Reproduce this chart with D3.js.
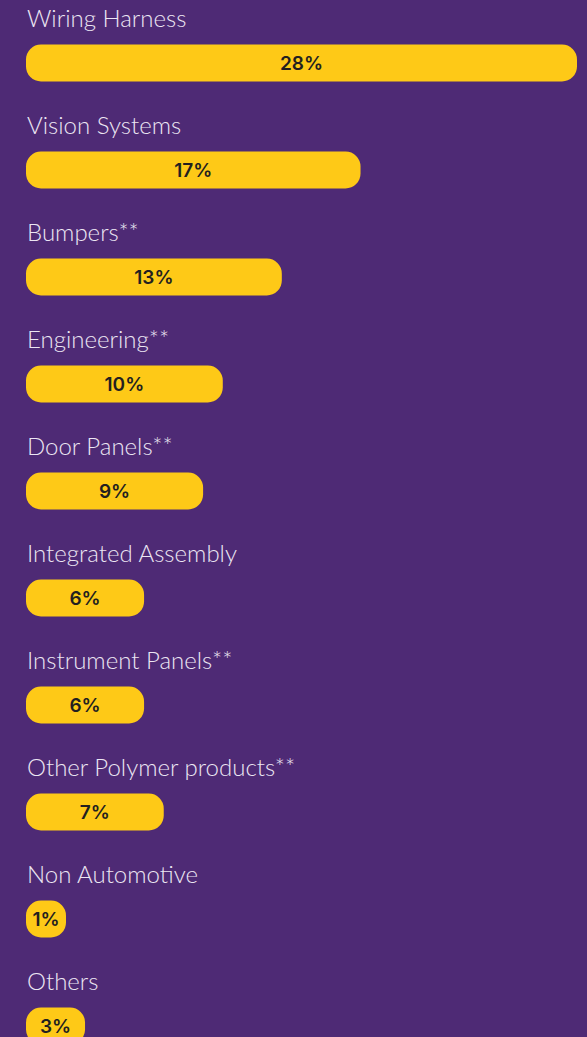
<!DOCTYPE html>
<html>
<head>
<meta charset="utf-8">
<script src="https://cdn.jsdelivr.net/npm/d3@7"></script>
<style>
	html, body { margin: 0; padding: 0; background: #4e2a75; overflow: hidden; }
</style>
</head>
<body>
<script>
var width = 587,
		height = 1037,
		barLeft = 26,
		barHeight = 37,
		minBar = 40;

// segment names and their share of revenue (%)
var categories = ["Wiring Harness", "Vision Systems", "Bumpers**", "Engineering**", "Door Panels**",
	"Integrated Assembly", "Instrument Panels**", "Other Polymer products**", "Non Automotive", "Others"];
var shares = [28, 17, 13, 10, 9, 6, 6, 7, 1, 3];
var valueLabels = ["28%", "17%", "13%", "10%", "9%", "6%", "6%", "7%", "1%", "3%"];

var rows = [];
for(var i = 0; i < categories.length; i++){
	rows.push({ name: categories[i], value: shares[i], label: valueLabels[i] });
}

var y = d3.scalePoint()
	.domain(categories)
	.range([63, 1026]);

var x = d3.scaleLinear()
	.domain([0, 28])
	.range([0, 551]);

var svg = d3.select("body")
	.append("svg")
	.attr("width", width)
	.attr("height", height);

svg.append("rect")
	.attr("width", width)
	.attr("height", height)
	.style("fill", "#4e2a75");

var g = svg.selectAll(".row")
	.data(rows)
	.enter()
	.append("g")
	.attr("class", "row")
	.attr("transform", function (d) { return "translate(0," + y(d.name) + ")"; });

// category name above the bar
g.append("text")
	.attr("x", 27)
	.attr("y", -36)
	.style("font-family", "Lato, 'Noto Sans', sans-serif")
	.style("font-weight", "300")
	.style("font-size", "24px")
	.style("fill", "#ece6f3")
	.text(function (d) { return d.name; });

g.append("rect")
	.attr("x", barLeft)
	.attr("y", -barHeight / 2)
	.attr("width", function (d) { return Math.max(x(d.value), minBar); })
	.attr("height", barHeight)
	.attr("rx", 15)
	.attr("ry", 15)
	.style("fill", "#fec917");

g.append("text")
	.attr("x", function (d) { return barLeft + Math.max(x(d.value), minBar) / 2; })
	.attr("y", 0)
	.attr("dy", "0.36em")
	.attr("text-anchor", "middle")
	.style("font-family", "Inter, 'Noto Sans', sans-serif")
	.style("font-weight", "600")
	.style("font-size", "19px")
	.style("fill", "#231f20")
	.text(function (d) { return d.label; });
</script>
</body>
</html>
